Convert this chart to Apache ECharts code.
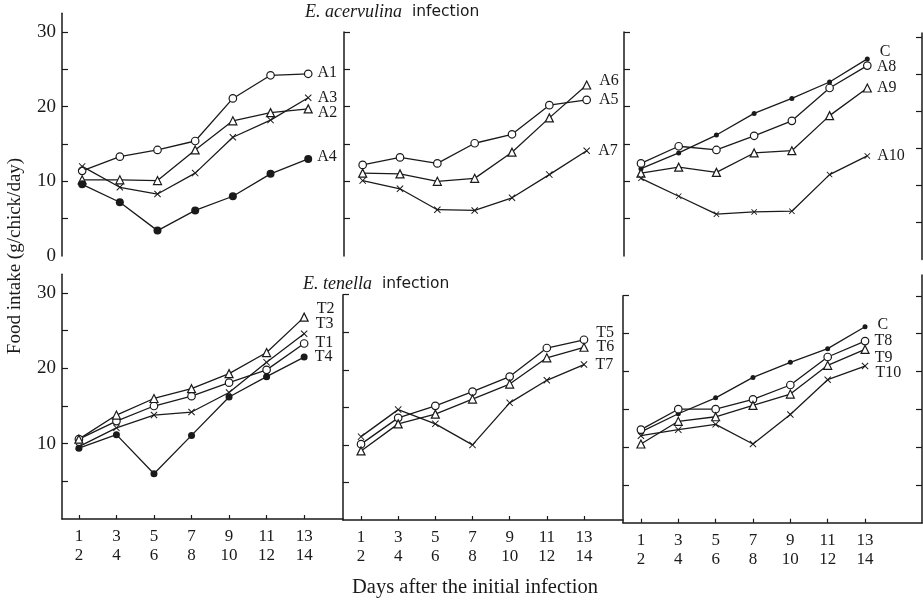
<!DOCTYPE html>
<html>
<head>
<meta charset="utf-8">
<script src="https://cdn.jsdelivr.net/npm/echarts@6/dist/echarts.min.js"></script>
<style>
  html, body { margin: 0; padding: 0; background: #fff; }
  #main { width: 923px; height: 603px; }
</style>
</head>
<body>
<div id="main"></div>
<script>
// days on the x axis (pairs of days) and their tick labels
var days = [1, 3, 5, 7, 9, 11, 13];
var dayLabels = ["1\n2", "3\n4", "5\n6", "7\n8", "9\n10", "11\n12", "13\n14"];
var yTicks = [5, 10, 15, 20, 25, 30];
var yLabelsTop = [0, 10, 20, 30];
var yLabelsBottom = [10, 20, 30];

// E. acervulina
var a1 = [11.4, 13.3, 14.2, 15.4, 21.1, 24.2, 24.4];
var a2 = [10.2, 10.2, 10.1, 14.2, 18.1, 19.2, 19.7];
var a3 = [12.0, 9.2, 8.3, 11.1, 15.9, 18.2, 21.2];
var a4 = [9.6, 7.2, 3.4, 6.1, 8.0, 11.0, 13.0];
var a5 = [12.2, 13.2, 12.4, 15.1, 16.3, 20.2, 20.9];
var a6 = [11.1, 11.0, 10.0, 10.4, 13.9, 18.5, 22.9];
var a7 = [10.1, 9.0, 6.2, 6.1, 7.8, 10.9, 14.1];
var cA = [11.7, 13.8, 16.2, 19.1, 21.1, 23.3, 26.4];
var a8 = [12.4, 14.7, 14.2, 16.1, 18.1, 22.5, 25.5];
var a9 = [11.1, 11.9, 11.2, 13.8, 14.1, 18.8, 22.5];
var a10 = [10.4, 8.0, 5.6, 5.9, 6.0, 10.9, 13.4];

// E. tenella
var t1 = [10.6, 13.0, 15.0, 16.3, 18.1, 19.8, 23.3];
var t2 = [10.6, 13.8, 16.0, 17.3, 19.3, 22.1, 26.8];
var t3 = [9.6, 12.1, 13.8, 14.2, 16.8, 20.8, 24.6];
var t4 = [9.4, 11.2, 6.0, 11.1, 16.2, 18.9, 21.5];
var t5 = [10.1, 13.6, 15.2, 17.1, 19.1, 22.9, 24.0];
var t6 = [9.2, 12.8, 14.1, 16.1, 18.1, 21.6, 23.0];
var t7 = [11.1, 14.7, 12.8, 10.0, 15.6, 18.6, 20.7];
var cT = [12.0, 14.4, 16.5, 19.2, 21.2, 23.0, 25.9];
var t8 = [12.3, 15.0, 15.0, 16.3, 18.2, 21.9, 24.0];
var t9 = [10.4, 13.4, 14.0, 15.5, 17.0, 20.8, 22.9];
var t10 = [11.5, 12.3, 13.0, 10.4, 14.3, 18.9, 20.7];

(function() {
  var myChart = echarts.init(document.getElementById("main"));
  var ink = "#1a1a1a";
  var serif = "Liberation Serif";
  var crossPath = "path://M0,1L1,0L5,4L9,0L10,1L6,5L10,9L9,10L5,6L1,10L0,9L4,5Z";

  // panel layout (pixels) - scan is slightly skewed so rows differ a bit
  var panels = [
    { left: 62, top: 13.3, width: 282, height: 242.7, xMin: -0.07, xMax: 14.9, yMax: 32.5, labels: yLabelsTop, bottom: false },
    { left: 344, top: 32, width: 280, height: 224, xMin: 0, xMax: 15, yMax: 30, labels: [], bottom: false },
    { left: 624, top: 32, width: 298, height: 224, xMin: 0.1, xMax: 15.9, yMax: 30, labels: [], bottom: false },
    { left: 62, top: 274.2, width: 281, height: 244.8, xMin: 0.1, xMax: 15.07, yMax: 32.5, labels: yLabelsBottom, bottom: true },
    { left: 343, top: 294.7, width: 280, height: 225.3, xMin: 0.03, xMax: 15.1, yMax: 30, labels: [], bottom: true },
    { left: 623, top: 295.7, width: 299, height: 227, xMin: 0.04, xMax: 16.05, yMax: 30, labels: [], bottom: true }
  ];
  // right-hand borders of the last column
  var rightBorders = [
    { left: 624, top: 33, width: 298, height: 226.5, yMax: 30.6 },
    { left: 623, top: 275, width: 299, height: 248, yMax: 32.76 }
  ];

  var grids = [], xAxes = [], yAxes = [];
  panels.forEach(function(p, i) {
    grids.push({ left: p.left, top: p.top, width: p.width, height: p.height });
    xAxes.push({
      type: "value",
      gridIndex: i,
      min: p.xMin,
      max: p.xMax,
      show: p.bottom,
      splitLine: { show: false },
      axisLine: { show: true, onZero: false, lineStyle: { color: ink, width: 1.5 } },
      axisTick: { show: true, inside: true, length: 4, customValues: days, lineStyle: { color: ink, width: 1.2 } },
      axisLabel: {
        customValues: days,
        margin: 8,
        color: ink,
        fontFamily: serif,
        fontSize: 17,
        lineHeight: 19,
        formatter: function(v) {
          return dayLabels[days.indexOf(v)] || "";
        }
      }
    });
    yAxes.push({
      type: "value",
      gridIndex: i,
      min: 0,
      max: p.yMax,
      splitLine: { show: false },
      axisLine: { show: true, onZero: false, lineStyle: { color: ink, width: 1.5 } },
      axisTick: { show: true, inside: true, length: 6, customValues: yTicks, lineStyle: { color: ink, width: 1.2 } },
      axisLabel: {
        show: p.labels.length > 0,
        customValues: p.labels,
        margin: 6,
        color: ink,
        fontFamily: serif,
        fontSize: 19
      }
    });
  });
  rightBorders.forEach(function(r) {
    var gi = grids.length;
    grids.push({ left: r.left, top: r.top, width: r.width, height: r.height });
    xAxes.push({ type: "value", gridIndex: gi, min: 0, max: 1, show: false });
    yAxes.push({
      type: "value",
      gridIndex: gi,
      position: "right",
      min: 0,
      max: r.yMax,
      splitLine: { show: false },
      axisLine: { show: true, onZero: false, lineStyle: { color: ink, width: 1.5 } },
      axisTick: { show: true, inside: true, length: 6, customValues: yTicks, lineStyle: { color: ink, width: 1.2 } },
      axisLabel: { show: false }
    });
  });

  var marks = {
    open: { symbol: "circle", size: 7.5, fill: "#fff" },
    dot: { symbol: "circle", size: 7, fill: ink },
    tri: { symbol: "triangle", size: 8, fill: "#fff" },
    cross: { symbol: crossPath, size: 7, fill: ink }
  };

  function line(name, values, panel, mark, offset, dotSize) {
    var m = marks[mark];
    return {
      name: name,
      type: "line",
      xAxisIndex: panel,
      yAxisIndex: panel,
      data: values.map(function(v, k) { return [days[k], v]; }),
      symbol: m.symbol,
      symbolSize: dotSize || m.size,
      showAllSymbol: true,
      lineStyle: { color: ink, width: 1.3 },
      itemStyle: {
        color: m.fill,
        borderColor: ink,
        borderWidth: mark === "open" || mark === "tri" ? 1.2 : 0
      },
      label: {
        show: true,
        position: "right",
        distance: 5,
        offset: offset || [0, 0],
        color: ink,
        fontFamily: serif,
        fontSize: 16,
        formatter: function(p) {
          return p.dataIndex === values.length - 1 ? name : "";
        }
      },
      emphasis: { disabled: true },
      z: 3
    };
  }

  var series = [
    line("A1", a1, 0, "open", [0, -1]),
    line("A2", a2, 0, "tri", [0, 4]),
    line("A3", a3, 0, "cross", [1, 0]),
    line("A4", a4, 0, "dot", [0, -2], 8),
    line("A5", a5, 1, "open", [3, 0]),
    line("A6", a6, 1, "tri", [3, -4]),
    line("A7", a7, 1, "cross", [3, 0]),
    line("C", cA, 2, "dot", [5, -7], 5),
    line("A8", a8, 2, "open", [0, 1]),
    line("A9", a9, 2, "tri", [0, 0]),
    line("A10", a10, 2, "cross", [2, 0], 6),
    line("T1", t1, 3, "open", [2, -1]),
    line("T2", t2, 3, "tri", [3, -8]),
    line("T3", t3, 3, "cross", [3, -10]),
    line("T4", t4, 3, "dot", [2, 0]),
    line("T5", t5, 4, "open", [3, -7]),
    line("T6", t6, 4, "tri", [3, 0]),
    line("T7", t7, 4, "cross", [3, 0]),
    line("C", cT, 5, "dot", [5, -2], 5),
    line("T8", t8, 5, "open", [0, 0]),
    line("T9", t9, 5, "tri", [0, 8]),
    line("T10", t10, 5, "cross", [2, 7])
  ];

  var titleRich = {
    i: { fontFamily: serif, fontStyle: "italic", fontWeight: "normal", fontSize: 18, color: ink },
    n: { fontFamily: "DejaVu Sans", fontWeight: "normal", fontSize: 15.5, color: ink }
  };

  var option = {
    animation: false,
    backgroundColor: "#fff",
    title: [
      { text: "{i|E. acervulina}  {n|infection}", left: 305, top: 3, padding: 0, textStyle: { fontWeight: "normal", rich: titleRich } },
      { text: "{i|E. tenella}  {n|infection}", left: 303, top: 275, padding: 0, textStyle: { fontWeight: "normal", rich: titleRich } },
      {
        text: "Days after the initial infection",
        left: 475, top: 577, textAlign: "center", padding: 0,
        textStyle: { fontFamily: serif, fontWeight: "normal", fontSize: 20.5, color: ink }
      }
    ],
    graphic: [
      {
        type: "text",
        x: 15,
        y: 256,
        rotation: Math.PI / 2,
        style: {
          text: "Food intake (g/chick/day)",
          font: "19px 'Liberation Serif'",
          fill: ink,
          align: "center",
          verticalAlign: "middle"
        }
      }
    ],
    grid: grids,
    xAxis: xAxes,
    yAxis: yAxes,
    series: series
  };
  myChart.setOption(option);
  window.addEventListener("resize", function() {
    myChart.resize();
  });
})();
</script>
</body>
</html>
